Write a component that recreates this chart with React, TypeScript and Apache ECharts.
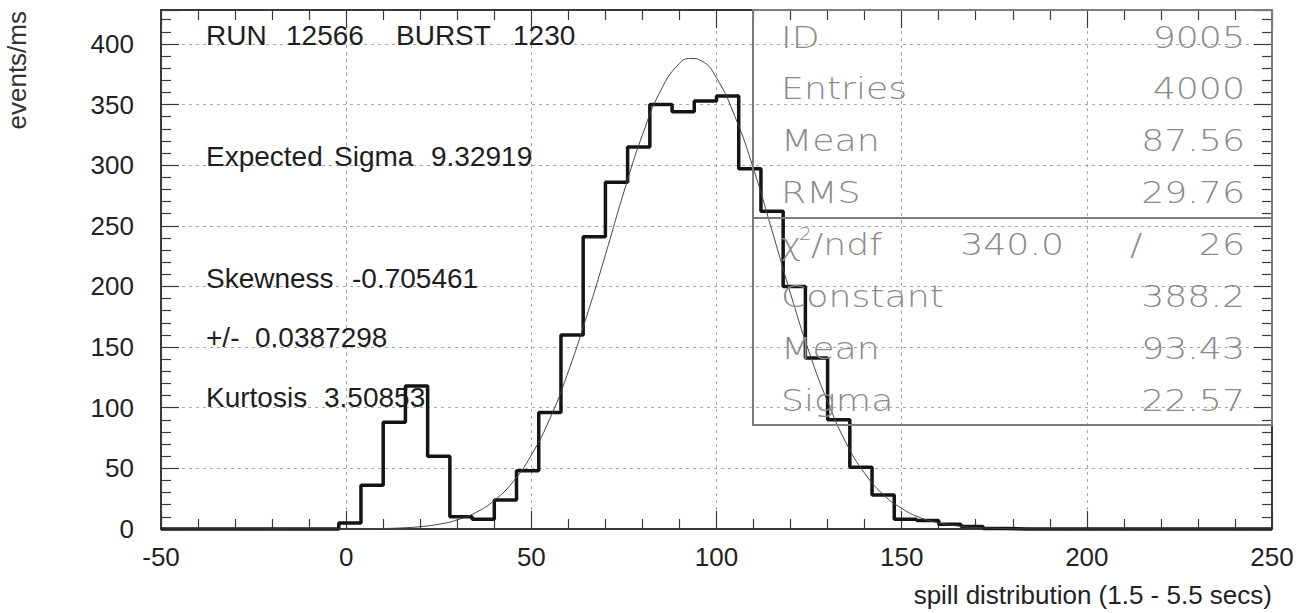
import React, { useEffect, useRef } from 'react';
import * as echarts from 'echarts';

// ---- Histogram: 50 bins of width 6 from -50 to 250 ----
const binMin = -50;
const binWidth = 6;
const binCounts = [
  0, 0, 0, 0, 0, 0, 0, 0,
  5, 36, 88, 118, 60, 10, 8, 24, 48, 96,
  160, 241, 286, 315, 350, 344, 353, 357, 297, 262,
  200, 141, 90, 51, 28, 8, 7, 4, 2, 0.5,
  0, 0, 0, 0, 0, 0, 0, 0, 0, 0, 0, 0,
];

// ---- Gaussian fit curve ----
const fitX = [-50, 0, 5, 10, 15, 20, 25, 30, 35, 40, 45, 50, 55, 60, 65, 70, 75, 80, 85, 90, 93, 96, 100, 105, 110, 115, 120, 125, 130, 135, 140, 145, 150, 155, 160, 165, 170, 175, 180, 190, 250];
const fitY = [0, 0.1, 0.2, 0.4, 0.9, 1.9, 3.9, 7.5, 13.6, 23.6, 38.8, 61, 91, 130, 176, 226, 278, 325, 362, 384, 388, 386, 372, 340, 297, 246, 194, 146, 105, 71, 46, 28.5, 17, 9.4, 5, 2.5, 1.2, 0.6, 0.2, 0, 0];

// ---- Axes ----
const xMin = -50;
const xMax = 250;
const xStep = 50;
const yMin = 0;
const yMax = 428;
const yStep = 50;
const xTitle = 'spill distribution (1.5 - 5.5 secs)';
const yTitle = 'events/ms';

// ---- Left info texts ----
const runLine = [['RUN', 206], ['12566', 286], ['BURST', 396], ['1230', 513]] as const;
const infoLines = [
  { y: 156, parts: [['Expected', 206], ['Sigma', 334], ['9.32919', 431]] },
  { y: 278, parts: [['Skewness', 206], ['-0.705461', 352]] },
  { y: 337, parts: [['+/-', 206], ['0.0387298', 255]] },
  { y: 397, parts: [['Kurtosis', 206], ['3.50853', 324]] },
];

// ---- Stats box ----
const statLabels = ['ID', 'Entries', 'Mean', 'RMS'];
const statValues = ['9005', '4000', '87.56', '29.76'];
const fitLabels = ['Constant', 'Mean', 'Sigma'];
const fitValues = ['388.2', '93.43', '22.57'];
const chi2Value = '340.0';
const ndfValue = '26';

const SANS = "'Liberation Sans', Arial, Helvetica, sans-serif";
const BOX_FONT = "'DejaVu Sans', sans-serif";

export default function App() {
  const ref = useRef<HTMLDivElement>(null);

  useEffect(() => {
    if (!ref.current) return;
    const chart = echarts.init(ref.current, undefined, { renderer: 'svg' });

    const histData: [number, number][] = binCounts.map((c, i) => [binMin + i * binWidth, c]);
    histData.push([binMin + binCounts.length * binWidth, binCounts[binCounts.length - 1]]);
    const fitData = fitX.map((x, i) => [x, fitY[i]]);

    const frameColor = '#3a3a3a';
    const gridLine = { show: true, lineStyle: { color: '#a8a8a8', width: 1, type: [3, 4] as any } };

    const baseX = {
      type: 'value' as const,
      min: xMin,
      max: xMax,
      interval: xStep,
      axisLine: { show: true, onZero: false, lineStyle: { color: frameColor, width: 2 } },
      axisTick: { show: true, inside: true, length: 18, lineStyle: { color: frameColor, width: 1.2 } },
      minorTick: { show: true, splitNumber: 5, length: 10, lineStyle: { color: frameColor, width: 1.2 } },
    };
    const baseY = {
      type: 'value' as const,
      min: yMin,
      max: yMax,
      interval: yStep,
      axisLine: { show: true, onZero: false, lineStyle: { color: frameColor, width: 2 } },
      axisTick: { show: true, inside: true, length: 18, lineStyle: { color: frameColor, width: 1.2 } },
      minorTick: { show: true, splitNumber: 5, length: 10, lineStyle: { color: frameColor, width: 1.2 } },
    };

    const graphics: any[] = [];
    // left info texts
    runLine.forEach(([t, x]) => {
      graphics.push({ type: 'text', x, y: 35.5, z: 20, style: { text: t, fontSize: 28, fontFamily: SANS, fill: '#1e1e1e', align: 'left', verticalAlign: 'middle' } });
    });
    infoLines.forEach((ln) => {
      ln.parts.forEach(([t, x]) => {
        graphics.push({ type: 'text', x, y: ln.y, z: 20, style: { text: t, fontSize: 28, fontFamily: SANS, fill: '#1e1e1e', align: 'left', verticalAlign: 'middle' } });
      });
    });

    // stats box
    const boxL = 753, boxR = 1272, boxT = 10, boxB = 425, divY = 218;
    const boxStroke = '#7c7c7c';
    graphics.push({ type: 'rect', z: 15, shape: { x: boxL, y: boxT, width: boxR - boxL, height: boxB - boxT }, style: { fill: 'none', stroke: boxStroke, lineWidth: 2 } });
    graphics.push({ type: 'line', z: 15, shape: { x1: boxL, y1: divY, x2: boxR, y2: divY }, style: { stroke: boxStroke, lineWidth: 2 } });
    const rowY = (i: number) => 37 + i * 51.9;
    const boxText = (text: string, x: number, y: number, align: string, size = 31) => ({
      type: 'text', x, y, scaleX: 1.17, z: 20,
      style: { text, fontSize: size, fontFamily: BOX_FONT, fontWeight: 200, fill: '#8a8a8a', align, verticalAlign: 'middle' },
    });
    statLabels.forEach((t, i) => graphics.push(boxText(t, 781, rowY(i), 'left')));
    statValues.forEach((t, i) => graphics.push(boxText(t, 1245, rowY(i), 'right')));
    // chi2 row
    graphics.push(boxText('χ', 780, rowY(4), 'left'));
    graphics.push(boxText('2', 799, rowY(4) - 11, 'left', 17));
    graphics.push(boxText('/ndf', 811, rowY(4), 'left'));
    graphics.push(boxText(chi2Value, 1064, rowY(4), 'right'));
    graphics.push(boxText('/', 1136, rowY(4), 'center'));
    graphics.push(boxText(ndfValue, 1245, rowY(4), 'right'));
    fitLabels.forEach((t, i) => graphics.push(boxText(t, 781, rowY(5 + i), 'left')));
    fitValues.forEach((t, i) => graphics.push(boxText(t, 1245, rowY(5 + i), 'right')));

    // axis titles
    graphics.push({ type: 'text', x: 17, y: 11, rotation: Math.PI / 2, z: 20, style: { text: yTitle, fontSize: 26, fontFamily: SANS, fill: '#333', align: 'right', verticalAlign: 'middle' } });
    graphics.push({ type: 'text', x: 1272, y: 595, z: 20, style: { text: xTitle, fontSize: 26, fontFamily: SANS, fill: '#222', align: 'right', verticalAlign: 'middle' } });

    chart.setOption({
      animation: false,
      backgroundColor: '#ffffff',
      grid: { left: 161, right: 28, top: 10, bottom: 84, containLabel: false },
      xAxis: [
        {
          ...baseX,
          position: 'bottom',
          axisLabel: { show: true, fontSize: 26, fontFamily: SANS, color: '#222', margin: 15 },
          splitLine: gridLine,
        },
        {
          ...baseX,
          position: 'top',
          axisLabel: { show: false },
          splitLine: { show: false },
        },
      ],
      yAxis: [
        {
          ...baseY,
          position: 'left',
          axisLabel: {
            show: true, fontSize: 26, fontFamily: SANS, color: '#222', margin: 27,
            showMaxLabel: false,
            formatter: (v: number) => (v % yStep === 0 ? String(v) : ''),
          },
          splitLine: gridLine,
        },
        {
          ...baseY,
          position: 'right',
          axisLabel: { show: false },
          splitLine: { show: false },
        },
      ],
      series: [
        {
          type: 'line',
          name: 'histogram',
          xAxisIndex: 0,
          yAxisIndex: 0,
          data: histData,
          step: 'end',
          showSymbol: false,
          symbol: 'none',
          clip: false,
          silent: true,
          lineStyle: { color: '#141414', width: 3.5 },
          z: 5,
        },
        {
          type: 'line',
          name: 'fit',
          xAxisIndex: 0,
          yAxisIndex: 0,
          data: fitData,
          smooth: 0.5,
          showSymbol: false,
          symbol: 'none',
          clip: false,
          silent: true,
          lineStyle: { color: '#444', width: 1 },
          z: 6,
        },
      ],
      graphic: graphics,
    });

    return () => chart.dispose();
  }, []);

  return (
    <div
      ref={ref}
      style={{ position: 'fixed', left: 0, top: 0, width: 1300, height: 613, background: '#fff' }}
    />
  );
}
